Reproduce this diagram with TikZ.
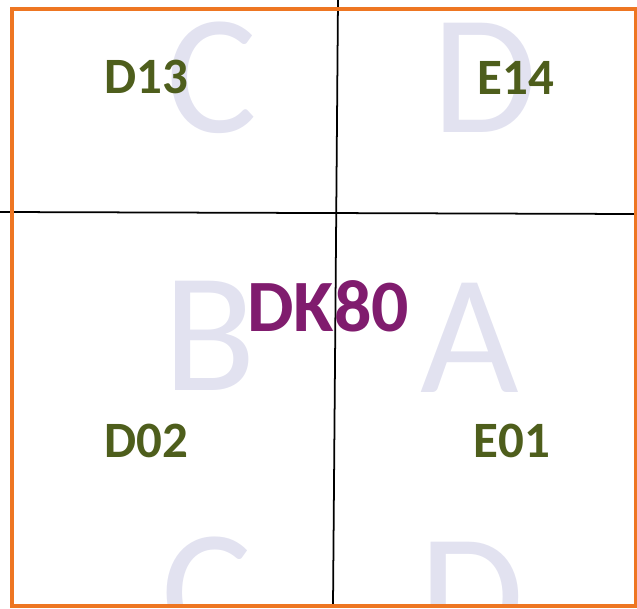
\documentclass[tikz,border=0pt]{standalone}
\usepackage{fontspec}
\setmainfont{Carlito}
\usepackage{xcolor}
\definecolor{framec}{RGB}{238,118,34}
\definecolor{codec}{RGB}{78,94,28}
\definecolor{sheetc}{RGB}{128,28,110}
\definecolor{quadc}{RGB}{226,226,240}

\begin{document}
\begin{tikzpicture}[x=0.02cm, y=-0.02cm,
  quad/.style={text=quadc, font=\fontsize{97}{97}\selectfont, inner sep=0pt},
  code/.style={text=codec, font=\fontsize{29}{29}\selectfont\bfseries, inner sep=0pt},
  sheet/.style={text=sheetc, font=\fontsize{42}{42}\selectfont\bfseries, inner sep=0pt}]
  \useasboundingbox (0,0) rectangle (637,609);

  % quadrant letters, cut off by the frame
  \begin{scope}
    \clip (12,9) rectangle (636,606);
    \node[quad] (qC) at (212,78) {C};
    \node[quad] (qD) at (485,78) {D};
    \node[quad] (qB) at (210,336) {B};
    \node[quad] (qA) at (470,338) {A};
    \node[quad] (qCb) at (207,593) {C};
    \node[quad] (qDb) at (472,597) {D};
  \end{scope}

  % grid lines
  \coordinate (hl) at (0,212);
  \coordinate (hr) at (637,214);
  \coordinate (vt) at (338,0);
  \coordinate (vb) at (333,606);
  \draw[line width=1pt] (hl) -- (hr);
  \draw[line width=1pt] (vt) -- (vb);
  \draw[framec, line width=2pt] (12,9) rectangle (636,606);

  % sheet codes
  \node[code] (d13) at (146,77) {D13};
  \node[code] (e14) at (516,78) {E14};
  \node[code] (d02) at (146,441) {D02};
  \node[code] (e01) at (512,441) {E01};
  \node[sheet] (dk80) at (328,306) {DK80};
\end{tikzpicture}
\end{document}
